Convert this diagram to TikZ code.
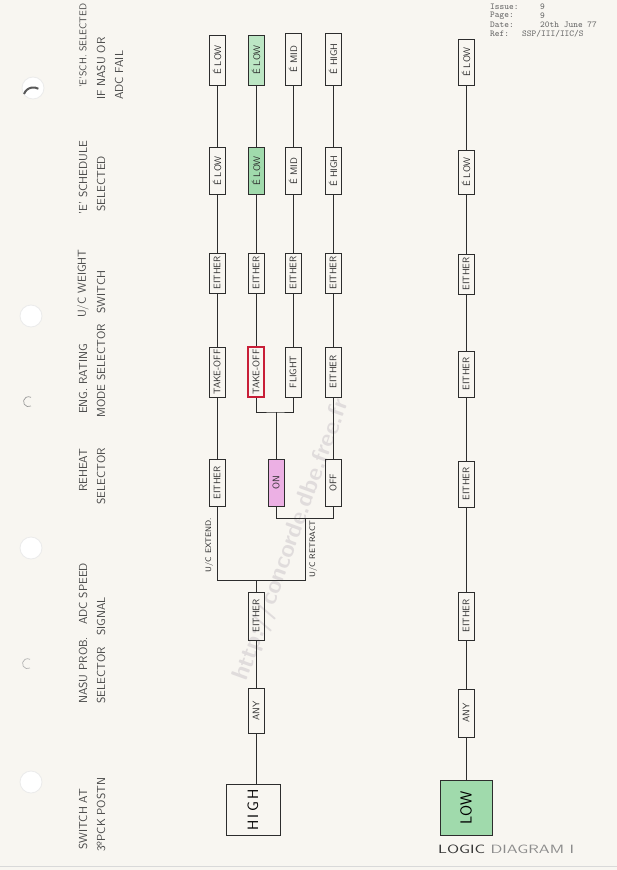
\documentclass[tikz,border=0pt]{standalone}
\usepackage{fontspec}
\usetikzlibrary{calc}
\definecolor{paper}{RGB}{248,246,241}
\definecolor{ink}{RGB}{45,45,45}
\definecolor{gfill}{RGB}{160,218,172}
\definecolor{gfillL}{RGB}{188,230,196}
\definecolor{pfill}{RGB}{236,176,228}
\definecolor{redb}{RGB}{200,30,55}
\definecolor{hdr}{RGB}{70,70,70}
\definecolor{wmark}{RGB}{224,220,220}
\begin{document}
\begin{tikzpicture}[x=1pt,y=-1pt,
  sbox/.style={draw=ink, line width=0.7pt, rotate=90, minimum width=#1, minimum height=16pt, inner sep=0.5pt, font=\sffamily\fontsize{9.5}{9.5}\selectfont, text=ink},
  sbox/.default=46pt,
  bigbox/.style={draw=ink, line width=0.8pt, rotate=90, inner sep=0pt},
  conn/.style={draw=ink, line width=0.8pt},
  hd/.style={rotate=90, anchor=west, inner sep=0pt, font=\sffamily\fontsize{11.6}{11.6}\selectfont, text=hdr},
  lbl/.style={rotate=90, inner sep=0pt, font=\sffamily\fontsize{8}{8}\selectfont, text=ink},
  tw/.style={anchor=west, inner sep=0pt, font=\ttfamily\fontsize{9}{9}\selectfont, text=black!60},
  hole/.style={fill=white, draw=black!8, line width=0.8pt}
]
\useasboundingbox (0,0) rectangle (617,870);
\fill[paper] (0,0) rectangle (617,870);
\draw[black!15, line width=0.6pt] (0,866) -- (617,866);

% punched holes and marks
\fill[hole] (33,88) circle (11);
\draw[black!65, line width=2pt] (24,94) arc (200:300:10);
\fill[hole] (31,316) circle (11);
\draw[black!40, line width=0.7pt] (31,406) arc (60:300:5);
\fill[hole] (31,548) circle (11);
\draw[black!30, line width=0.7pt] (30,668) arc (60:300:5);
\fill[hole] (31,782) circle (11);

% watermark
\node[rotate=70, inner sep=0pt, font=\sffamily\bfseries\fontsize{24}{24}\selectfont, text=wmark] (wm) at (292,540) {http://concorde.dbe.free.fr};

% headers
\node[hd] (h1a) at (83,850) {SWITCH AT};
\node[hd] (h1b) at (101,852) {3ºPCK POSTN};
\node[hd] (h2a) at (83,704) {NASU PROB.};
\node[hd] (h2b) at (101,704) {SELECTOR};
\node[hd] (h3a) at (83,625) {ADC SPEED};
\node[hd] (h3b) at (101,636) {SIGNAL};
\node[hd] (h4a) at (83,492) {REHEAT};
\node[hd] (h4b) at (101,505) {SELECTOR};
\node[hd] (h5a) at (83,414) {ENG. RATING};
\node[hd] (h5b) at (101,418) {MODE SELECTOR};
\node[hd] (h6a) at (83,318) {U/C WEIGHT};
\node[hd] (h6b) at (101,314) {SWITCH};
\node[hd] (h7a) at (83,215) {'E' SCHEDULE};
\node[hd] (h7b) at (101,212) {SELECTED};
\node[hd, font=\sffamily\fontsize{9.8}{9.8}\selectfont] (h8a) at (83,88) {'E'SCH. SELECTED};
\node[hd] (h8b) at (101,100) {IF NASU OR};
\node[hd] (h8c) at (119,100) {ADC FAIL};

% top-right reference block
\node[tw] (t1) at (490,7) {Issue:};
\node[tw] (t1v) at (540,7) {9};
\node[tw] (t2) at (490,16) {Page:};
\node[tw] (t2v) at (540,16) {9};
\node[tw] (t3) at (490,25) {Date:};
\node[tw] (t3v) at (540,25) {20th June 77};
\node[tw] (t4) at (490,34) {Ref:};
\node[tw] (t4v) at (522,34) {SSP/III/IIC/S};

% column 1
\node[sbox=50pt] (a1) at (217,60) {\'E LOW};
\node[sbox=47pt] (a2) at (217,171) {\'E LOW};
\node[sbox=40pt] (a3) at (217,273) {EITHER};
\node[sbox=50pt] (a4) at (217,372) {TAKE-OFF};
\node[sbox=47pt] (a5) at (217,483) {EITHER};
% column 2
\node[sbox=50pt, fill=gfillL] (b1) at (256,60) {\'E LOW};
\node[sbox=47pt, fill=gfill] (b2) at (256,171) {\'E LOW};
\node[sbox=40pt] (b3) at (256,273) {EITHER};
\node[sbox=50pt, draw=redb, line width=1.6pt] (b4) at (256,372) {TAKE-OFF};
% column 3
\node[sbox=52pt] (c1) at (293,59) {\'E MID};
\node[sbox=47pt] (c2) at (293,171) {\'E MID};
\node[sbox=40pt] (c3) at (293,273) {EITHER};
\node[sbox=50pt] (c4) at (293,372) {FLIGHT};
% column 4
\node[sbox=52pt] (d1) at (333,59) {\'E HIGH};
\node[sbox=47pt] (d2) at (333,171) {\'E HIGH};
\node[sbox=40pt] (d3) at (333,273) {EITHER};
\node[sbox=50pt] (d4) at (333,372) {EITHER};
% reheat
\node[sbox=47pt, fill=pfill] (on) at (276,483) {ON};
\node[sbox=47pt] (off) at (333,483) {OFF};
% lower part, high chain
\node[sbox=48pt] (adc) at (256,616) {EITHER};
\node[sbox=45pt] (any) at (256,711) {ANY};
\node[bigbox, minimum width=51pt, minimum height=54pt, font=\sffamily\fontsize{15}{15}\selectfont] (high) at (253,810) {H\,I\,G\,H};

% low chain
\node[sbox=46pt] (l1) at (466,62) {\'E LOW};
\node[sbox=44pt] (l2) at (466,172) {\'E LOW};
\node[sbox=40pt] (l3) at (466,274) {EITHER};
\node[sbox=46pt] (l4) at (466,374) {EITHER};
\node[sbox=46pt] (l5) at (466,484) {EITHER};
\node[sbox=48pt] (l6) at (466,616) {EITHER};
\node[sbox=48pt] (l7) at (466,713) {ANY};
\node[bigbox, fill=gfill, minimum width=55pt, minimum height=52pt, font=\sffamily\fontsize{16}{16}\selectfont] (low) at (466,808) {LOW};

% junction coordinates
\coordinate (jL) at (217,580);
\coordinate (jM) at (256,580);
\coordinate (jR) at (305,580);
\coordinate (kR) at (305,518);
\coordinate (kOff) at (333,518);
\coordinate (mT) at (276,412);

% connectors
\draw[conn] (a1)--(a2) (a2)--(a3) (a3)--(a4) (a4)--(a5);
\draw[conn] (b1)--(b2) (b2)--(b3) (b3)--(b4);
\draw[conn] (c1)--(c2) (c2)--(c3) (c3)--(c4);
\draw[conn] (d1)--(d2) (d2)--(d3) (d3)--(d4) (d4)--(off);
\draw[conn] (a5) |- (jR) -- (kR);
\draw[conn] (on) |- (kOff) -- (off);
\draw[conn] (b4) |- (mT) -| (c4);
\draw[conn] (mT) -- (on);
\draw[conn] (adc) -- (jM);
\draw[conn] (adc)--(any);
\draw[conn] (any) -- (any |- high.east);
\draw[conn] (l1)--(l2) (l2)--(l3) (l3)--(l4) (l4)--(l5) (l5)--(l6) (l6)--(l7) (l7)--(low);

% branch labels
\node[lbl] (ext) at (209,545) {U/C EXTEND.};
\node[lbl] (ret) at (313,549) {U/C RETRACT};

% title
\node[anchor=west, inner sep=0pt, font=\sffamily\fontsize{12}{12}\selectfont] (title) at (438,849) {\scalebox{1.4}[1]{\textcolor{black!80}{LOGIC} \textcolor{black!45}{DIAGRAM I}}};
\end{tikzpicture}
\end{document}
